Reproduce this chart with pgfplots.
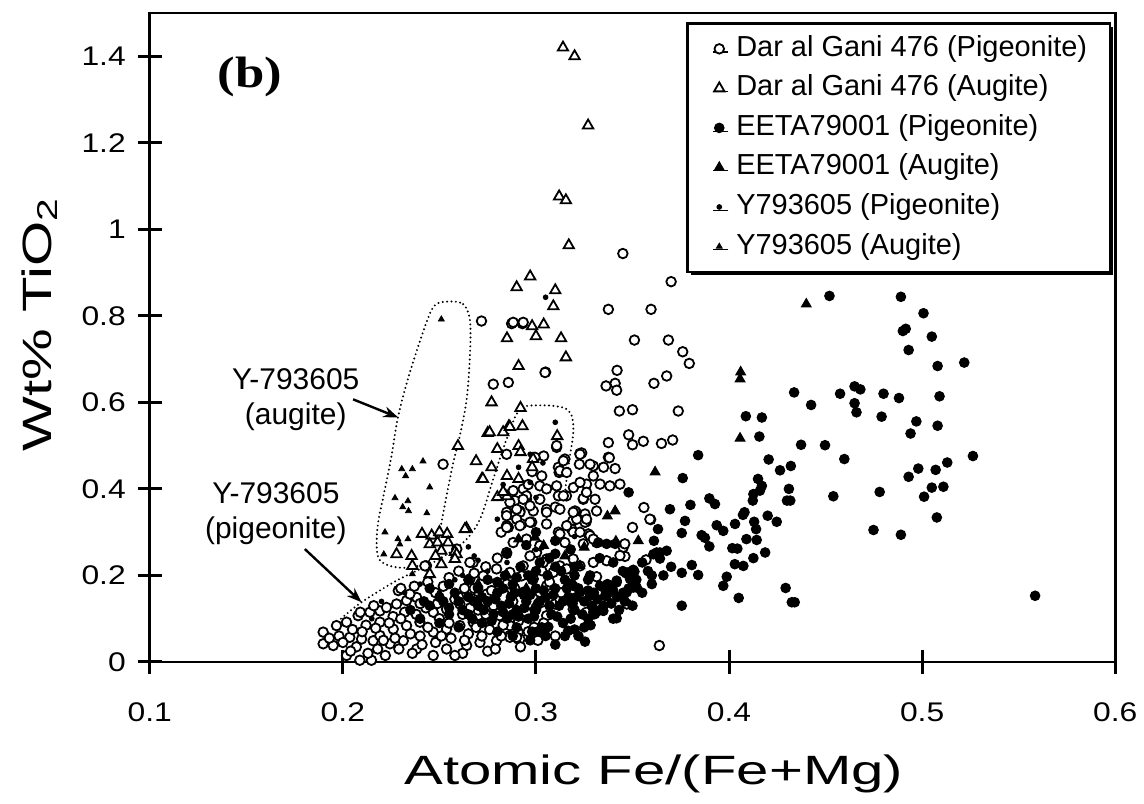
\documentclass[border=0pt]{standalone}
\usepackage{fontspec}
\setmainfont{Liberation Sans}
\newfontfamily\serifb[FakeStretch=1.2]{Liberation Serif}
\newfontfamily\tickfont[FakeStretch=1.18]{Liberation Sans}
\newfontfamily\labfont[FakeStretch=1.42]{Liberation Sans}
\usepackage{pgfplots}
\pgfplotsset{compat=1.18}
\usetikzlibrary{shadows,arrows.meta}
\pgfplotsset{
  legimg/.style={legend image code/.code={\path[draw=none,fill=none] (-4.5pt,0pt) -- (3pt,0pt); \draw[##1] plot coordinates {(0pt,0pt)};}},
}
\begin{document}
\begin{tikzpicture}
\begin{axis}[
  at={(0,0)}, anchor=south west,
  scale only axis, width=483.5pt, height=325pt,
  xmin=0.1, xmax=0.6, ymin=0, ymax=1.5,
  xtick={0.1,0.2,0.3,0.4,0.5,0.6},
  ytick={0,0.2,0.4,0.6,0.8,1,1.2,1.4},
  xtick pos=bottom, ytick pos=left,
  tick align=center, major tick length=12pt,
  axis line style={line width=1.4pt},
  every tick/.style={line width=1.5pt, black},
  /pgf/number format/assume math mode=true,
  xticklabel style={font=\tickfont\fontsize{13.5}{16}\selectfont, yshift=-11pt},
  yticklabel style={font=\tickfont\fontsize{13.5}{16}\selectfont, xshift=-2.5pt},
  clip=false,
  every axis x label/.style={at={(axis description cs:0.522,-0.172)}, anchor=center, font=\labfont\fontsize{20.5}{24}\selectfont},
  every axis y label/.style={at={(axis description cs:-0.114,0.52)}, rotate=90, anchor=center, font=\labfont\fontsize{20.5}{24}\selectfont},
  xlabel={Atomic Fe/(Fe+Mg)},
  ylabel={Wt\% TiO\textsubscript{2}},
  legend style={
    at={(axis description cs:0.996,0.986)}, anchor=north east,
    draw=black, line width=1.3pt, fill=white,
    inner xsep=11.5pt, inner ysep=5.5pt,
    font=\fontsize{14.5}{17}\selectfont,
    row sep=5.3pt, column sep=5.5pt,
    nodes={inner sep=0pt, text height=11pt, text depth=3.5pt},
    drop shadow={shadow xshift=1.6pt, shadow yshift=-1.6pt, fill=black, opacity=1},
  },
  legend cell align=left,
]
% Dar al Gani 476 (Pigeonite)
\addplot[only marks, mark=*, mark size=2.4pt, line width=0.9pt, mark options={fill=white, draw=black}, legimg] coordinates {
(0.345,0.944)(0.370,0.879)(0.3375,0.815)(0.3596,0.815)(0.351,0.744)(0.3686,0.744)(0.376,0.717)(0.3794,0.69)(0.3677,0.661)(0.3611,0.644)(0.342,0.674)(0.3363,0.638)(0.341,0.644)(0.3418,0.628)(0.3432,0.58)(0.350,0.583)(0.3737,0.58)(0.305,0.67)(0.2857,0.646)(0.2779,0.642)(0.2874,0.782)(0.293,0.782)(0.2718,0.788)(0.3375,0.507)(0.348,0.525)(0.350,0.502)(0.3556,0.51)(0.365,0.505)(0.3708,0.513)(0.3228,0.482)(0.3297,0.453)(0.335,0.45)(0.341,0.447)(0.3375,0.473)(0.3262,0.411)(0.3332,0.411)(0.3383,0.407)(0.3435,0.411)(0.3245,0.376)(0.3306,0.376)(0.3314,0.349)(0.3254,0.342)(0.3207,0.347)(0.326,0.324)(0.319,0.326)(0.3559,0.357)(0.3594,0.329)(0.35,0.311)(0.357,0.236)(0.3461,0.244)(0.3452,0.265)(0.3366,0.234)(0.3314,0.197)(0.347,0.134)(0.3639,0.038)(0.2908,0.053)(0.2865,0.061)
(0.3116,0.45)(0.312,0.438)(0.315,0.469)(0.304,0.476)(0.2995,0.473)(0.302,0.407)(0.3107,0.496)(0.2934,0.40)(0.2891,0.373)(0.2951,0.376)(0.2848,0.346)(0.2917,0.349)(0.2986,0.349)(0.3055,0.349)(0.2857,0.311)(0.2926,0.319)(0.2978,0.323)(0.3055,0.319)(0.3116,0.30)(0.3185,0.307)(0.3254,0.323)(0.3271,0.296)(0.3314,0.276)(0.3193,0.238)(0.3124,0.222)(0.3176,0.215)(0.3055,0.238)(0.3003,0.253)(0.2926,0.199)(0.2978,0.199)(0.303,0.211)(0.2874,0.169)(0.2934,0.161)(0.302,0.161)(0.303,0.138)(0.3098,0.134)(0.3185,0.138)(0.3237,0.153)(0.2857,0.107)(0.2865,0.084)(0.2908,0.069)
(0.3237,0.483)(0.338,0.472)(0.3142,0.465)(0.3124,0.442)(0.3225,0.457)(0.3194,0.403)(0.3158,0.384)(0.3116,0.384)(0.3245,0.378)(0.3055,0.353)(0.31,0.358)(0.3202,0.349)(0.3211,0.33)(0.3193,0.30)(0.3124,0.296)(0.328,0.292)(0.346,0.273)(0.3435,0.246)(0.315,0.276)(0.3245,0.273)(0.359,0.33)
(0.2519,0.457)(0.2882,0.785)(0.2934,0.785)(0.3047,0.669)(0.3107,0.50)(0.2675,0.23)(0.259,0.261)(0.2433,0.222)
(0.1898,0.069)(0.1898,0.042)(0.1967,0.084)(0.195,0.038)(0.2019,0.015)(0.2036,0.057)(0.2097,0.053)(0.2157,0.049)(0.2088,0.004)(0.2148,0.004)(0.2019,0.092)(0.2079,0.107)(0.214,0.115)(0.2192,0.118)(0.2226,0.126)(0.2278,0.134)(0.233,0.142)(0.2382,0.149)(0.2287,0.165)(0.2347,0.157)(0.2192,0.092)(0.2261,0.076)(0.233,0.084)(0.2399,0.092)(0.2192,0.061)(0.2244,0.042)(0.2313,0.049)(0.2382,0.03)(0.2468,0.015)(0.2537,0.03)(0.2468,0.115)(0.2537,0.122)(0.2606,0.134)(0.2675,0.145)(0.2745,0.157)(0.2813,0.169)(0.2468,0.069)(0.2537,0.076)(0.2606,0.084)(0.2675,0.092)(0.2745,0.099)(0.2813,0.107)(0.2641,0.038)(0.271,0.045)(0.2796,0.049)(0.2865,0.057)(0.2917,0.053)(0.2658,0.192)(0.2727,0.199)(0.2796,0.215)(0.2865,0.207)(0.2934,0.222)(0.2848,0.253)(0.2882,0.276)(0.2951,0.284)(0.302,0.269)(0.2848,0.315)(0.2917,0.346)(0.2969,0.361)(0.2865,0.369)(0.2951,0.384)(0.302,0.376)(0.3055,0.346)(0.3124,0.353)(0.3107,0.407)(0.3142,0.384)(0.3159,0.438)(0.3228,0.48)(0.328,0.457)(0.3297,0.43)(0.3262,0.392)(0.2969,0.245)(0.3038,0.23)(0.3089,0.207)(0.3159,0.215)(0.3228,0.222)(0.3297,0.23)(0.3159,0.315)(0.3228,0.30)(0.3297,0.284)(0.3193,0.346)(0.3262,0.33)(0.3228,0.415)(0.3124,0.145)(0.3193,0.122)(0.3262,0.115)(0.29,0.057)(0.2986,0.115)(0.3055,0.107)(0.2986,0.192)(0.3055,0.176)
(0.205,0.075)(0.212,0.085)(0.218,0.03)(0.226,0.105)(0.232,0.115)(0.24,0.06)(0.243,0.125)(0.248,0.045)(0.25,0.10)(0.256,0.055)(0.258,0.145)(0.262,0.11)(0.265,0.065)(0.268,0.17)(0.27,0.12)(0.276,0.075)(0.278,0.13)(0.283,0.085)(0.285,0.18)(0.288,0.14)(0.291,0.095)(0.294,0.155)(0.296,0.07)(0.3,0.125)(0.304,0.09)(0.307,0.185)(0.31,0.06)(0.313,0.16)(0.236,0.02)(0.244,0.185)(0.252,0.175)(0.26,0.21)(0.227,0.055)(0.198,0.06)(0.207,0.035)(0.222,0.015)(0.262,0.02)(0.275,0.025)(0.28,0.24)(0.274,0.22)(0.282,0.3)(0.29,0.33)(0.296,0.41)(0.298,0.44)(0.303,0.43)
(0.2848,0.48)(0.3055,0.40)(0.2882,0.396)(0.2934,0.376)(0.2848,0.338)(0.29,0.353)(0.2848,0.311)(0.2917,0.315)(0.2969,0.323)(0.2658,0.23)(0.2425,0.222)
(0.193,0.055)(0.2,0.045)(0.204,0.025)(0.21,0.07)(0.213,0.02)(0.217,0.078)(0.221,0.05)(0.224,0.09)(0.229,0.03)(0.23,0.1)(0.235,0.065)(0.238,0.11)(0.241,0.04)(0.244,0.08)(0.249,0.135)(0.251,0.06)(0.255,0.09)(0.258,0.015)(0.26,0.15)(0.263,0.05)(0.266,0.125)(0.269,0.08)(0.272,0.06)(0.274,0.11)(0.277,0.165)(0.279,0.03)(0.282,0.06)(0.286,0.125)(0.289,0.17)(0.292,0.035)(0.295,0.115)(0.299,0.08)(0.301,0.05)(0.23,0.17)(0.237,0.175)(0.248,0.16)(0.255,0.195)(0.263,0.17)(0.268,0.205)(0.24,0.135)(0.216,0.13)(0.209,0.115)
};
\addlegendentry{Dar al Gani 476 (Pigeonite)}
% Dar al Gani 476 (Augite)
\addplot[only marks, mark=triangle*, mark size=3pt, line width=0.9pt, mark options={fill=white, draw=black}, legimg] coordinates {
(0.314,1.42)(0.320,1.40)(0.327,1.24)(0.312,1.076)(0.3155,1.067)(0.317,0.963)(0.297,0.891)(0.290,0.866)(0.310,0.859)(0.309,0.822)(0.298,0.776)(0.304,0.78)(0.285,0.748)(0.300,0.753)(0.313,0.748)(0.3155,0.704)(0.291,0.684)(0.277,0.60)(0.292,0.587)(0.286,0.545)(0.293,0.545)(0.275,0.529)(0.2596,0.499)(0.269,0.464)(0.277,0.45)(0.272,0.423)(0.280,0.381)(0.264,0.309)(0.241,0.296)(0.246,0.292)(0.250,0.30)(0.254,0.296)(0.245,0.272)(0.249,0.276)(0.2545,0.276)(0.258,0.254)(0.2278,0.249)(0.2356,0.245)(0.236,0.222)(0.251,0.226)(0.251,0.257)(0.2589,0.249)(0.258,0.238)(0.245,0.203)(0.248,0.245)(0.276,0.531)(0.283,0.531)(0.2865,0.543)(0.280,0.492)(0.291,0.499)(0.285,0.43)(0.291,0.423)(0.2985,0.469)(0.285,0.383)(0.2725,0.423)(0.311,0.522)(0.298,0.45)(0.292,0.485)(0.283,0.393)(0.2632,0.307)
};
\addlegendentry{Dar al Gani 476 (Augite)}
% EETA79001 (Pigeonite)
\addplot[only marks, mark=*, mark size=2.4pt, line width=0.5pt, mark options={fill=black, draw=black}, legimg] coordinates {
(0.452,0.846)(0.489,0.844)(0.5007,0.806)(0.490,0.765)(0.4915,0.77)(0.505,0.752)(0.493,0.721)(0.508,0.684)(0.4337,0.623)(0.4425,0.594)(0.4575,0.62)(0.465,0.637)(0.468,0.63)(0.465,0.598)(0.466,0.577)(0.480,0.62)(0.488,0.61)(0.479,0.567)(0.509,0.614)(0.497,0.556)(0.494,0.528)(0.508,0.546)(0.4087,0.568)(0.417,0.565)(0.4157,0.521)(0.4373,0.502)(0.4497,0.501)(0.4597,0.469)(0.4205,0.468)(0.4264,0.443)(0.432,0.453)(0.384,0.478)(0.376,0.425)(0.348,0.392)(0.454,0.383)(0.478,0.393)(0.493,0.428)(0.498,0.447)(0.507,0.444)(0.513,0.461)(0.505,0.403)(0.511,0.405)(0.501,0.382)(0.5076,0.334)(0.4748,0.305)(0.489,0.294)(0.415,0.423)(0.417,0.407)(0.416,0.396)(0.4126,0.388)(0.4123,0.373)(0.431,0.40)(0.430,0.373)(0.4317,0.373)(0.420,0.338)(0.4247,0.324)(0.408,0.346)(0.4072,0.34)(0.413,0.324)(0.414,0.307)(0.409,0.284)(0.4143,0.282)(0.4031,0.319)(0.4017,0.263)(0.4043,0.262)(0.4187,0.253)(0.4126,0.24)(0.403,0.226)(0.4074,0.222)(0.3988,0.197)(0.397,0.176)(0.405,0.148)(0.4293,0.171)(0.4325,0.138)(0.434,0.138)(0.3936,0.316)(0.397,0.303)(0.3898,0.378)(0.3927,0.365)(0.380,0.363)(0.3772,0.326)(0.3755,0.298)(0.3694,0.353)(0.3858,0.293)(0.3875,0.287)(0.3898,0.267)(0.3755,0.206)(0.3807,0.224)(0.384,0.201)(0.3755,0.13)(0.3632,0.307)(0.3611,0.28)(0.3677,0.257)(0.3625,0.253)(0.3642,0.239)(0.3504,0.213)(0.3466,0.205)(0.3504,0.172)(0.3418,0.101)(0.3254,0.047)(0.3167,0.072)(0.3283,0.085)(0.3349,0.118)(0.340,0.165)(0.3452,0.16)(0.3012,0.071)(0.3064,0.081)
(0.5218,0.692)(0.5263,0.476)(0.5585,0.153)
(0.351,0.209)(0.3487,0.192)(0.3323,0.276)(0.3366,0.273)(0.341,0.273)(0.3608,0.249)(0.3642,0.253)
(0.3185,0.18)(0.3332,0.176)(0.338,0.176)(0.3522,0.172)(0.3478,0.207)(0.3418,0.188)(0.3358,0.153)(0.3297,0.122)(0.3306,0.111)(0.3418,0.184)(0.347,0.161)(0.3366,0.153)(0.3323,0.118)(0.328,0.153)(0.3193,0.176)(0.3228,0.161)(0.3297,0.115)
(0.235,0.12)(0.24,0.10)(0.245,0.13)(0.25,0.09)(0.252,0.14)(0.255,0.11)(0.258,0.16)(0.26,0.08)(0.262,0.12)(0.265,0.15)(0.267,0.10)(0.27,0.13)(0.27,0.17)(0.272,0.09)(0.275,0.14)(0.275,0.19)(0.278,0.11)(0.28,0.16)(0.28,0.07)(0.282,0.13)(0.284,0.20)(0.285,0.10)(0.287,0.15)(0.288,0.18)(0.29,0.12)(0.29,0.08)(0.292,0.22)(0.293,0.16)(0.295,0.14)(0.296,0.10)(0.298,0.19)(0.30,0.12)(0.30,0.17)(0.302,0.23)(0.303,0.08)(0.305,0.15)(0.306,0.20)(0.308,0.11)(0.31,0.17)(0.31,0.25)(0.312,0.13)(0.314,0.09)(0.315,0.19)(0.317,0.15)(0.32,0.12)(0.32,0.22)(0.322,0.17)(0.325,0.14)(0.325,0.08)(0.328,0.20)(0.33,0.11)(0.33,0.16)(0.333,0.24)(0.335,0.13)(0.337,0.18)(0.34,0.10)(0.342,0.15)(0.345,0.21)(0.348,0.17)(0.35,0.13)(0.352,0.19)(0.355,0.16)(0.358,0.21)(0.36,0.18)(0.305,0.06)(0.297,0.05)(0.31,0.04)(0.285,0.25)(0.295,0.27)(0.3,0.3)(0.31,0.28)(0.265,0.19)(0.255,0.18)(0.245,0.17)
(0.318,0.10)(0.322,0.06)(0.288,0.11)(0.272,0.15)(0.302,0.14)(0.296,0.2)(0.283,0.17)(0.313,0.21)(0.327,0.19)(0.307,0.24)(0.318,0.26)(0.34,0.23)(0.355,0.23)(0.36,0.2)(0.366,0.2)(0.37,0.22)
(0.265,0.11)(0.268,0.14)(0.273,0.12)(0.277,0.095)(0.279,0.145)(0.283,0.115)(0.286,0.135)(0.289,0.16)(0.291,0.105)(0.294,0.125)(0.297,0.155)(0.299,0.105)(0.301,0.135)(0.304,0.165)(0.307,0.13)(0.309,0.155)(0.311,0.105)(0.314,0.14)(0.316,0.17)(0.319,0.135)(0.321,0.15)(0.324,0.11)(0.327,0.165)(0.329,0.13)(0.332,0.145)(0.336,0.165)(0.339,0.135)(0.343,0.12)(0.346,0.14)(0.28,0.185)(0.29,0.195)(0.3,0.21)(0.31,0.22)(0.32,0.2)(0.26,0.14)(0.255,0.125)(0.25,0.15)(0.242,0.14)(0.288,0.06)(0.298,0.07)(0.315,0.06)(0.32,0.075)(0.327,0.1)
};
\addlegendentry{EETA79001 (Pigeonite)}
% EETA79001 (Augite)
\addplot[only marks, mark=triangle*, mark size=2.8pt, line width=0.5pt, mark options={fill=black, draw=black}, legimg] coordinates {
(0.440,0.827)(0.406,0.67)(0.4057,0.654)(0.4057,0.517)(0.3617,0.439)(0.341,0.349)(0.337,0.337)(0.353,0.28)(0.3414,0.279)(0.325,0.265)(0.291,0.284)(0.2995,0.288)(0.304,0.269)(0.3228,0.222)(0.315,0.245)(0.285,0.20)(0.27,0.18)(0.295,0.17)
};
\addlegendentry{EETA79001 (Augite)}
% Y793605 (Pigeonite)
\addplot[only marks, mark=*, mark size=1.2pt, line width=0.4pt, mark options={fill=black, draw=black}, legimg] coordinates {
(0.305,0.843)(0.31,0.554)(0.3036,0.46)(0.297,0.415)(0.291,0.45)(0.265,0.266)(0.268,0.245)(0.297,0.48)(0.258,0.19)(0.24,0.18)(0.25,0.16)(0.275,0.21)(0.285,0.23)(0.27,0.235)(0.3,0.26)(0.32,0.29)(0.262,0.2)(0.28,0.33)(0.283,0.41)(0.22,0.14)(0.215,0.1)(0.232,0.16)(0.3,0.38)
};
\addlegendentry{Y793605 (Pigeonite)}
% Y793605 (Augite)
\addplot[only marks, mark=triangle*, mark size=1.7pt, line width=0.4pt, mark options={fill=black, draw=black}, legimg] coordinates {
(0.251,0.792)(0.2415,0.464)(0.2305,0.446)(0.236,0.446)(0.2325,0.43)(0.245,0.404)(0.227,0.379)(0.2337,0.372)(0.231,0.358)(0.234,0.349)(0.2435,0.344)(0.2218,0.30)(0.2285,0.284)(0.2337,0.284)(0.2295,0.272)(0.2212,0.249)(0.236,0.203)
};
\addlegendentry{Y793605 (Augite)}
% envelopes
\addplot[forget plot, smooth cycle, tension=0.55, line width=1.1pt, line cap=round, dash pattern=on 0pt off 2.2pt] coordinates {
(0.2546,0.833)(0.2623,0.827)(0.2658,0.79)(0.2658,0.707)(0.2641,0.607)(0.2606,0.523)(0.2572,0.461)(0.2537,0.384)(0.2511,0.323)(0.2494,0.276)(0.245,0.235)(0.236,0.219)(0.2260,0.220)(0.2190,0.236)(0.2175,0.27)(0.2183,0.323)(0.2218,0.40)(0.2252,0.476)(0.2287,0.569)(0.2347,0.669)(0.2433,0.785)(0.2478,0.825)
};
\addplot[forget plot, smooth, tension=0.55, line width=1.1pt, line cap=round, dash pattern=on 0pt off 2.2pt] coordinates {
(0.199,0.10)(0.2097,0.138)(0.2278,0.188)(0.2468,0.23)(0.2623,0.276)(0.271,0.33)(0.2779,0.423)(0.2848,0.515)(0.2917,0.584)(0.302,0.593)(0.314,0.588)(0.3185,0.569)(0.3193,0.53)(0.3176,0.476)(0.3159,0.423)(0.315,0.39)
};
% annotations
\node[font=\serifb\bfseries\fontsize{22}{25}\selectfont, inner sep=0pt] at (axis cs:0.1518,1.353) {(b)};
\node[font=\fontsize{15}{17.5}\selectfont, align=center, inner sep=0pt] at (axis cs:0.1756,0.607) {Y-793605\\(augite)};
\node[font=\fontsize{15}{17.5}\selectfont, align=center, inner sep=0pt] at (axis cs:0.1653,0.342) {Y-793605\\(pigeonite)};
\draw[-{Stealth[length=7.5pt,width=5.5pt]}, line width=1.2pt] (axis cs:0.2053,0.607) -- (axis cs:0.2287,0.565);
\draw[-{Stealth[length=7.5pt,width=5.5pt]}, line width=1.2pt] (axis cs:0.1803,0.261) -- (axis cs:0.2097,0.138);
\end{axis}
\path (-75pt,-71pt) rectangle (497pt,331.5pt);
\end{tikzpicture}
\end{document}
